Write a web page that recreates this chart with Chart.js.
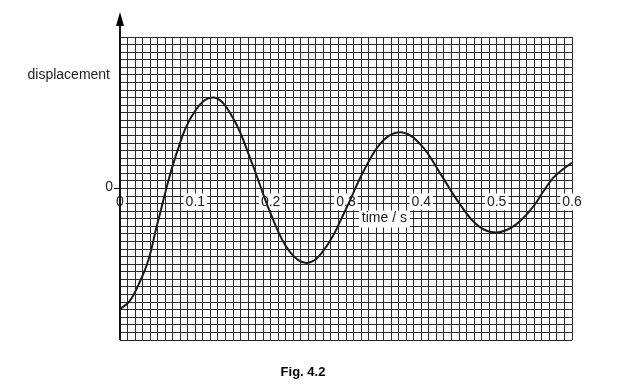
<!DOCTYPE html>
<html>
<head>
<meta charset="utf-8">
<script src="https://cdn.jsdelivr.net/npm/chart.js@4"></script>
<style>
  html, body { margin: 0; padding: 0; background: #fff; }
  #wrap { width: 617px; height: 392px; position: relative; }
</style>
</head>
<body>
<div id="wrap"><canvas id="myChart"></canvas></div>
<script>
// time in s, displacement in small grid squares
const times = [0, 0.0125, 0.025, 0.0375, 0.05, 0.075, 0.1, 0.125, 0.15, 0.175, 0.2, 0.225, 0.25, 0.275, 0.3,
               0.325, 0.35, 0.375, 0.4, 0.425, 0.45, 0.475, 0.5, 0.525, 0.55, 0.5625, 0.575, 0.5875, 0.6];
const displacement = [-15.9, -14.9, -12.6, -9.5, -4.5, 4.6, 10.3, 12.0, 9.3, 3.4, -3.3, -8.3, -9.8, -7.5, -2.7,
                      2.6, 6.4, 7.4, 5.7, 2.0, -1.9, -4.9, -5.8, -4.8, -2.2, -0.3, 1.4, 2.5, 3.4];
const timeTicks = [0, 0.1, 0.2, 0.3, 0.4, 0.5, 0.6];

const FONT = '"Liberation Sans", Arial, sans-serif';

// axis arrow, labels and caption
const decorations = {
  id: 'decorations',
  afterDraw(chart) {
    const ctx = chart.ctx;
    const x = chart.scales.x, y = chart.scales.y;
    const x0 = x.getPixelForValue(0);
    const y0 = y.getPixelForValue(0);
    const area = chart.chartArea;
    ctx.save();
    // y axis with arrow
    ctx.strokeStyle = '#111';
    ctx.lineWidth = 2;
    ctx.beginPath();
    ctx.moveTo(x0, area.bottom);
    ctx.lineTo(x0, 22);
    ctx.stroke();
    ctx.fillStyle = '#000';
    ctx.beginPath();
    ctx.moveTo(x0, 12);
    ctx.lineTo(x0 - 4, 26);
    ctx.lineTo(x0 + 4, 26);
    ctx.closePath();
    ctx.fill();
    // zero tick on y axis
    ctx.lineWidth = 1;
    ctx.beginPath();
    ctx.moveTo(x0 - 6, y0);
    ctx.lineTo(x0, y0);
    ctx.stroke();
    ctx.font = '14px ' + FONT;
    ctx.fillStyle = '#222';
    ctx.textBaseline = 'middle';
    ctx.textAlign = 'right';
    ctx.fillText('0', x0 - 7, y0 - 1);
    ctx.fillText('displacement', 110, 75);
    // x title with white box
    ctx.textAlign = 'center';
    const tx = x.getPixelForValue(0.351), ty = y0 + 30;
    const w = ctx.measureText('time / s').width;
    ctx.fillStyle = '#fff';
    ctx.fillRect(tx - w / 2 - 3, ty - 8, w + 6, 17);
    ctx.fillStyle = '#222';
    ctx.fillText('time / s', tx, ty);
    // caption
    ctx.font = 'bold 13px ' + FONT;
    ctx.fillStyle = '#000';
    ctx.fillText('Fig. 4.2', 303, 372);
    ctx.restore();
  }
};

new Chart(document.getElementById('myChart'), {
  type: 'line',
  data: {
    datasets: [{
      data: times.map((t, i) => ({ x: t, y: displacement[i] })),
      borderColor: '#1a1a1a',
      borderWidth: 2,
      pointRadius: 0,
      tension: 0.4,
      fill: false
    }]
  },
  options: {
    responsive: true,
    maintainAspectRatio: false,
    animation: false,
    layout: { padding: { left: 120, right: 45, top: 37, bottom: 52 } },
    plugins: { legend: { display: false }, tooltip: { enabled: false } },
    scales: {
      x: {
        type: 'linear', min: 0, max: 0.6,
        ticks: { display: false, stepSize: 0.01 },
        grid: { color: '#2a2a2a', lineWidth: 1, drawTicks: false },
        border: { display: false }
      },
      xl: {
        type: 'linear', min: 0, max: 0.6,
        position: { y: 0 },
        afterBuildTicks: axis => { axis.ticks = timeTicks.map(v => ({ value: v })); },
        ticks: {
          callback: v => String(Math.round(v * 10) / 10),
          color: '#222',
          font: { family: FONT, size: 14 },
          padding: -3,
          maxRotation: 0,
          autoSkip: false,
          showLabelBackdrop: true,
          backdropColor: '#fff',
          backdropPadding: { left: 2, right: 2, top: 0, bottom: 0 }
        },
        grid: { display: false },
        border: { display: false }
      },
      y: {
        type: 'linear', min: -20, max: 20,
        ticks: { display: false, stepSize: 1 },
        grid: { color: '#2a2a2a', lineWidth: 1, drawTicks: false },
        border: { display: false }
      }
    }
  },
  plugins: [decorations]
});
</script>
</body>
</html>
